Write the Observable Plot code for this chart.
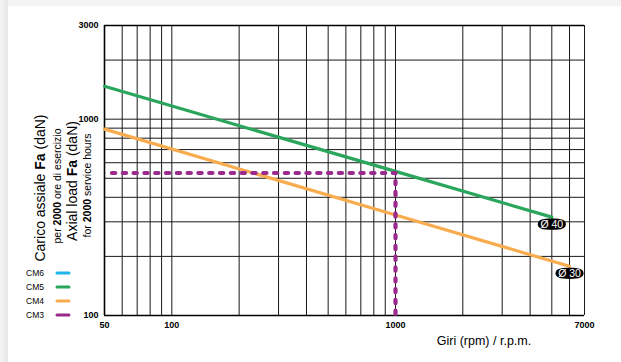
<!DOCTYPE html>
<html>
<head>
<meta charset="utf-8">
<script src="https://cdn.jsdelivr.net/npm/d3@7"></script>
<script src="https://cdn.jsdelivr.net/npm/@observablehq/plot@0.6"></script>
<style>
  html, body { margin: 0; padding: 0; background: #ffffff; }
  #wrap { position: relative; width: 621px; height: 362px; overflow: hidden; background: #ffffff; }
  #topstrip { position: absolute; left: 0; top: 0; width: 621px; height: 6px; background: #f3f3f3; }
  #leftstrip { position: absolute; left: 0; top: 0; width: 8px; height: 362px; background: linear-gradient(to right, #f4f4f4, #e6e6e6); }
  #chart { position: absolute; left: 0; top: 0; }
</style>
</head>
<body>
<div id="wrap">
  <div id="topstrip"></div>
  <div id="leftstrip"></div>
  <div id="chart"></div>
</div>
<script>
// ---- data ----
const xTicks = [50, 100, 1000, 7000];
const yTicks = [100, 1000, 3000];
const xGrid = [50, 60, 70, 80, 90, 100, 200, 300, 400, 500, 600, 700, 800, 900, 1000, 2000, 3000, 4000, 5000, 6000, 7000];
const yGrid = [100, 200, 300, 400, 500, 600, 700, 800, 900, 1000, 2000, 3000];

// CM5 – Ø 40 (green)
const cm5Rpm  = [50, 1000, 5000];
const cm5Load = [1470, 542, 317];
// CM4 – Ø 30 (orange)
const cm4Rpm  = [50, 1000, 6000];
const cm4Load = [890, 325, 178];
// CM3 – example reading (purple dashed)
const cm3Rpm  = [54, 1000, 1000];
const cm3Load = [532, 532, 100];

const labelNames = ["Ø 40", "Ø 30"];
const labelRpm   = [5000, 6000];
const labelLoad  = [317, 178];

const legendNames  = ["CM6", "CM5", "CM4", "CM3"];
const legendColors = ["#1db4e8", "#2aa65c", "#f8ac4e", "#9a2a8c"];

const green = legendColors[1], orange = legendColors[2], purple = legendColors[3];

const toRows = (xs, ys) => xs.map((x, i) => ({rpm: x, load: ys[i]}));
const cm5 = toRows(cm5Rpm, cm5Load);
const cm4 = toRows(cm4Rpm, cm4Load);
const cm3 = toRows(cm3Rpm, cm3Load);
const labels = labelNames.map((n, i) => ({name: n, rpm: labelRpm[i], load: labelLoad[i]}));

// pill-shaped symbol for the Ø labels
const pill = {
  draw(ctx) {
    const rx = 14, ry = 5.6, k = 0.72;
    ctx.moveTo(rx, 0);
    ctx.bezierCurveTo(rx, ry * k, rx * k, ry, 0, ry);
    ctx.bezierCurveTo(-rx * k, ry, -rx, ry * k, -rx, 0);
    ctx.bezierCurveTo(-rx, -ry * k, -rx * k, -ry, 0, -ry);
    ctx.bezierCurveTo(rx * k, -ry, rx, -ry * k, rx, 0);
    ctx.closePath();
  }
};

const font = "'Liberation Sans', Arial, Helvetica, sans-serif";

const svg = Plot.plot({
  width: 621,
  height: 362,
  marginLeft: 104,
  marginRight: 37,
  marginTop: 25,
  marginBottom: 47,
  style: {fontFamily: font, fontSize: "9px", fontWeight: "bold", background: "transparent", color: "#000", overflow: "visible"},
  x: {type: "log", domain: [50, 7000], axis: null},
  y: {type: "log", domain: [100, 3000], axis: null},
  marks: [
    Plot.ruleX(xGrid, {x: d => d, stroke: "#1a1a1a", strokeWidth: 1}),
    Plot.ruleY(yGrid, {y: d => d, stroke: "#1a1a1a", strokeWidth: 1}),
    Plot.ruleX([50], {x: d => d, stroke: "#000", strokeWidth: 1.6}),
    Plot.ruleY([100, 3000], {y: d => d, stroke: "#000", strokeWidth: 1.6}),
    // tick labels
    Plot.text(xTicks, {x: d => d, text: d => String(d), frameAnchor: "bottom", dy: 10, lineAnchor: "middle", fontSize: 9, fontWeight: "bold", fill: "#000"}),
    Plot.text(yTicks, {y: d => d, text: d => String(d), frameAnchor: "left", dx: -6, textAnchor: "end", fontSize: 9, fontWeight: "bold", fill: "#000"}),
    // curves
    Plot.line(cm5, {x: "rpm", y: "load", stroke: green, strokeWidth: 3.2}),
    Plot.line(cm4, {x: "rpm", y: "load", stroke: orange, strokeWidth: 3.2}),
    Plot.line(cm3, {x: "rpm", y: "load", stroke: purple, strokeWidth: 4.2, strokeDasharray: "3.3,7.5", strokeLinecap: "round", strokeLinejoin: "round"}),
    Plot.dot(labels, {x: "rpm", y: "load", symbol: pill, fill: "#000", stroke: "none", r: 5, dy: 7}),
    Plot.text(labels, {x: "rpm", y: "load", text: "name", fill: "#fff", fontSize: 10.5, fontWeight: "normal", dy: 7.5})
  ]
});

document.getElementById("chart").appendChild(svg);

// ---- overlay texts (axis titles + legend) ----
const s = d3.select(svg);
const g = s.append("g").attr("font-family", font).attr("fill", "#000").attr("font-weight", "normal");

const titleLines = [
  {x: 40, y: 188, size: 14, parts: [["Carico assiale ", false], ["Fa", true], [" (daN)", false]]},
  {x: 57, y: 186, size: 10.5, parts: [["per ", false], ["2000", true], [" ore di esercizio", false]]},
  {x: 72, y: 181, size: 14, parts: [["Axial load ", false], ["Fa", true], [" (daN)", false]]},
  {x: 87, y: 185.5, size: 10.5, parts: [["for ", false], ["2000", true], [" service hours", false]]}
];
titleLines.forEach(l => {
  const t = g.append("text")
    .attr("transform", `translate(${l.x},${l.y}) rotate(-90)`)
    .attr("text-anchor", "middle")
    .attr("dominant-baseline", "central")
    .attr("font-size", l.size);
  l.parts.forEach(([txt, b]) => t.append("tspan").attr("font-weight", b ? "bold" : "normal").text(txt));
});

g.append("text")
  .attr("x", 484).attr("y", 341)
  .attr("text-anchor", "middle").attr("dominant-baseline", "central")
  .attr("font-size", 12.5)
  .text("Giri (rpm) / r.p.m.");

legendNames.forEach((n, i) => {
  const y = 273 + i * 14;
  g.append("text").attr("x", 35).attr("y", y).attr("dominant-baseline", "central")
    .attr("font-size", 8.5).text(n);
  g.append("line").attr("x1", 57).attr("x2", 69).attr("y1", y).attr("y2", y)
    .attr("stroke", legendColors[i]).attr("stroke-width", 3).attr("stroke-linecap", "round");
});
</script>
</body>
</html>
